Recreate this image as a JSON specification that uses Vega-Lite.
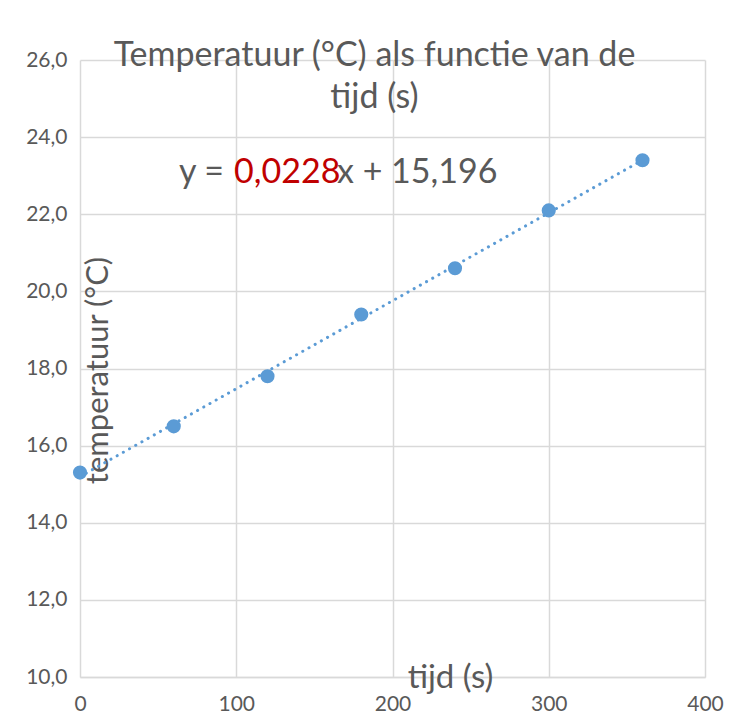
{
  "$schema": "https://vega.github.io/schema/vega-lite/v6.json",
  "autosize": "none",
  "width": 625,
  "height": 617,
  "padding": {"left": 80, "top": 60, "right": 24, "bottom": 43},
  "background": "white",
  "config": {
    "view": {"stroke": null},
    "font": "Lato",
    "locale": {"number": {"decimal": ",", "thousands": ".", "grouping": [3], "currency": ["€", ""]}}
  },
  "title": {
    "text": ["Temperatuur (°C) als functie van de", "tijd (s)"],
    "font": "Lato",
    "fontSize": 34,
    "fontWeight": "normal",
    "color": "#595959",
    "offset": -66,
    "dx": -18,
    "lineHeight": 42
  },
  "datasets": {
    "meting": [
      {"tijd": 0, "temperatuur": 15.3},
      {"tijd": 60, "temperatuur": 16.5},
      {"tijd": 120, "temperatuur": 17.8},
      {"tijd": 180, "temperatuur": 19.4},
      {"tijd": 240, "temperatuur": 20.6},
      {"tijd": 300, "temperatuur": 22.1},
      {"tijd": 360, "temperatuur": 23.4}
    ],
    "trend": [
      {"tijd": 0, "temperatuur": 15.196},
      {"tijd": 360, "temperatuur": 23.404}
    ]
  },
  "encoding": {
    "x": {
      "field": "tijd", "type": "quantitative",
      "scale": {"domain": [0, 400], "nice": false, "zero": false},
      "axis": {
        "title": "tijd (s)", "values": [0, 100, 200, 300, 400],
        "titleX": 370, "titleY": -16, "titleBaseline": "top", "titleAnchor": null,
        "titleFont": "Lato", "titleFontSize": 33, "titleFontWeight": "normal", "titleColor": "#595959",
        "labelFont": "Lato", "labelFontSize": 21, "labelColor": "#595959", "labelPadding": 16, "labelFlush": false,
        "ticks": false, "domain": true, "domainColor": "#d9d9d9", "domainWidth": 1.5,
        "grid": true, "gridColor": "#d9d9d9", "gridWidth": 1.5
      }
    },
    "y": {
      "field": "temperatuur", "type": "quantitative",
      "scale": {"domain": [10, 26], "nice": false, "zero": false},
      "axis": {
        "title": "temperatuur (°C)", "values": [10, 12, 14, 16, 18, 20, 22, 24, 26], "format": ".1f",
        "titleX": 34, "titleY": 310, "titleAngle": -90, "titleBaseline": "bottom", "titleAnchor": null, "titleAlign": "center",
        "titleFont": "Lato", "titleFontSize": 31, "titleFontWeight": "normal", "titleColor": "#595959",
        "labelFont": "Lato", "labelFontSize": 21, "labelColor": "#595959", "labelPadding": 13, "labelFlush": false,
        "ticks": false, "domain": false,
        "grid": true, "gridColor": "#d9d9d9", "gridWidth": 1.5
      }
    }
  },
  "layer": [
    {
      "data": {"name": "trend"},
      "mark": {"type": "line", "color": "#5B9BD5", "strokeWidth": 3, "strokeDash": [0.1, 7], "strokeCap": "round"}
    },
    {
      "data": {"name": "meting"},
      "mark": {"type": "circle", "color": "#5B9BD5", "opacity": 1, "size": 200}
    },
    {
      "data": {"values": [{"tijd": 92.2, "temperatuur": 23.07, "tekst": "y ="}]},
      "mark": {"type": "text", "font": "Lato", "fontSize": 34, "baseline": "middle", "align": "right", "color": "#595959"},
      "encoding": {"text": {"field": "tekst"}}
    },
    {
      "data": {"values": [{"tijd": 98.6, "temperatuur": 23.07, "tekst": "0,0228"}]},
      "mark": {"type": "text", "font": "Lato", "fontSize": 34, "baseline": "middle", "align": "left", "color": "#C00000"},
      "encoding": {"text": {"field": "tekst"}}
    },
    {
      "data": {"values": [{"tijd": 164.5, "temperatuur": 23.07, "tekst": "x + 15,196"}]},
      "mark": {"type": "text", "font": "Lato", "fontSize": 34, "baseline": "middle", "align": "left", "color": "#595959"},
      "encoding": {"text": {"field": "tekst"}}
    }
  ]
}
